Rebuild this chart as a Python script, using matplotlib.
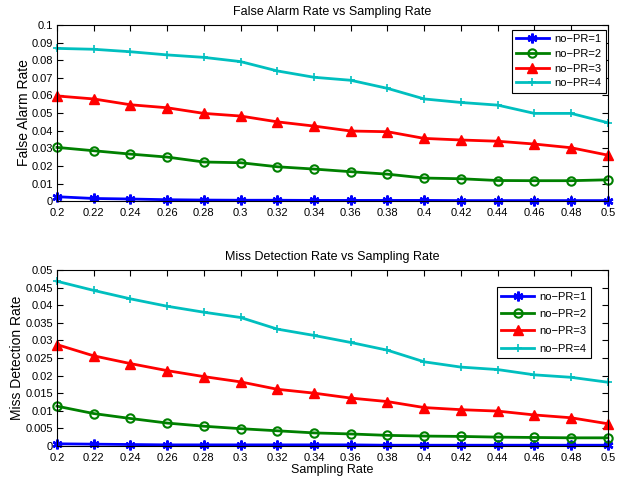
import matplotlib
matplotlib.use("Agg")
import matplotlib.pyplot as plt
import numpy as np

plt.rcParams['font.family'] = ['Liberation Sans', 'DejaVu Sans']

sampling_rate = [0.2, 0.22, 0.24, 0.26, 0.28, 0.3, 0.32, 0.34, 0.36, 0.38, 0.4, 0.42, 0.44, 0.46, 0.48, 0.5]
series_labels = ['no\u2212PR=1', 'no\u2212PR=2', 'no\u2212PR=3', 'no\u2212PR=4']

fa_pr1 = [0.0025, 0.0015, 0.0012, 0.0008, 0.0006, 0.0005, 0.0005, 0.0004, 0.0004, 0.0004, 0.0004, 0.0003, 0.0003, 0.0003, 0.0003, 0.0003]
fa_pr2 = [0.0305, 0.0286, 0.0267, 0.0250, 0.0222, 0.0218, 0.0195, 0.0182, 0.0167, 0.0153, 0.0131, 0.0127, 0.0117, 0.0116, 0.0116, 0.0121]
fa_pr3 = [0.0597, 0.0580, 0.0547, 0.0530, 0.0498, 0.0483, 0.0450, 0.0426, 0.0398, 0.0394, 0.0356, 0.0347, 0.0340, 0.0324, 0.0303, 0.0261]
fa_pr4 = [0.0867, 0.0862, 0.0848, 0.0830, 0.0816, 0.0792, 0.0739, 0.0703, 0.0686, 0.0640, 0.0580, 0.0560, 0.0545, 0.0498, 0.0498, 0.0445]

md_pr1 = [0.0006, 0.0005, 0.0004, 0.0003, 0.0003, 0.0003, 0.0003, 0.0003, 0.0003, 0.0002, 0.0002, 0.0002, 0.0002, 0.0002, 0.0002, 0.0002]
md_pr2 = [0.0113, 0.0092, 0.0078, 0.0065, 0.0056, 0.0049, 0.0043, 0.0037, 0.0034, 0.0030, 0.0028, 0.0027, 0.0025, 0.0024, 0.0023, 0.0023]
md_pr3 = [0.0288, 0.0256, 0.0234, 0.0214, 0.0197, 0.0182, 0.0161, 0.0150, 0.0136, 0.0126, 0.0109, 0.0103, 0.0099, 0.0088, 0.0080, 0.0063]
md_pr4 = [0.0468, 0.0442, 0.0418, 0.0397, 0.0380, 0.0365, 0.0332, 0.0314, 0.0294, 0.0272, 0.0239, 0.0224, 0.0217, 0.0202, 0.0195, 0.0181]

xticks = sampling_rate
xticklabels = ['0.2', '0.22', '0.24', '0.26', '0.28', '0.3', '0.32', '0.34', '0.36', '0.38', '0.4', '0.42', '0.44', '0.46', '0.48', '0.5']
fa_yticks = [0, 0.01, 0.02, 0.03, 0.04, 0.05, 0.06, 0.07, 0.08, 0.09, 0.1]
fa_yticklabels = ['0', '0.01', '0.02', '0.03', '0.04', '0.05', '0.06', '0.07', '0.08', '0.09', '0.1']
md_yticks = [0, 0.005, 0.01, 0.015, 0.02, 0.025, 0.03, 0.035, 0.04, 0.045, 0.05]
md_yticklabels = ['0', '0.005', '0.01', '0.015', '0.02', '0.025', '0.03', '0.035', '0.04', '0.045', '0.05']

styles = [
    dict(color='#0000ff', marker=(6, 2, 0), markersize=7, markeredgewidth=1.8),
    dict(color='#008000', marker='o', markersize=6, markerfacecolor='none', markeredgewidth=1.5),
    dict(color='#ff0000', marker='^', markersize=7, markeredgewidth=1.0),
    dict(color='#00bfbf', marker='+', markersize=6, markeredgewidth=1.2),
]

fig = plt.figure(figsize=(6.26, 4.8), dpi=100)
ax1 = fig.add_axes([0.091, 0.581, 0.880, 0.367])
ax2 = fig.add_axes([0.091, 0.071, 0.880, 0.3665])

def draw(ax, data, yticks, yticklabels, ymax, title, ylabel, xlabel, leg_anchor, leg_spacing):
    for vals, lab, st in zip(data, series_labels, styles):
        ax.plot(sampling_rate, vals, linewidth=2, label=lab, clip_on=False, **st)
    ax.set_xlim(0.2, 0.5)
    ax.set_ylim(0, ymax)
    ax.set_xticks(xticks)
    ax.set_xticklabels(xticklabels)
    ax.set_yticks(yticks)
    ax.set_yticklabels(yticklabels)
    ax.tick_params(direction='in', top=True, right=True, labelsize=8, length=4)
    ax.tick_params(axis='x', pad=5)
    ax.tick_params(axis='y', pad=3)
    ax.set_title(title, fontsize=9, pad=7)
    ax.set_ylabel(ylabel, fontsize=10, labelpad=0.5)
    if xlabel:
        ax.set_xlabel(xlabel, fontsize=9, labelpad=1)
    for s in ax.spines.values():
        s.set_linewidth(0.8)
    leg = ax.legend(loc='upper right', bbox_to_anchor=leg_anchor, fontsize=8, fancybox=False,
                    framealpha=1, edgecolor='black', borderaxespad=0, handlelength=2.9,
                    labelspacing=leg_spacing, borderpad=0.4, handletextpad=0.5)
    leg.get_frame().set_linewidth(0.8)

draw(ax1, [fa_pr1, fa_pr2, fa_pr3, fa_pr4], fa_yticks, fa_yticklabels, 0.1,
     'False Alarm Rate vs Sampling Rate', 'False Alarm Rate', None, (0.996, 0.972), 0.42)
draw(ax2, [md_pr1, md_pr2, md_pr3, md_pr4], md_yticks, md_yticklabels, 0.05,
     'Miss Detection Rate vs Sampling Rate', 'Miss Detection Rate', 'Sampling Rate',
     (0.969, 0.903), 0.66)

fig.savefig('out.png', dpi=100)
